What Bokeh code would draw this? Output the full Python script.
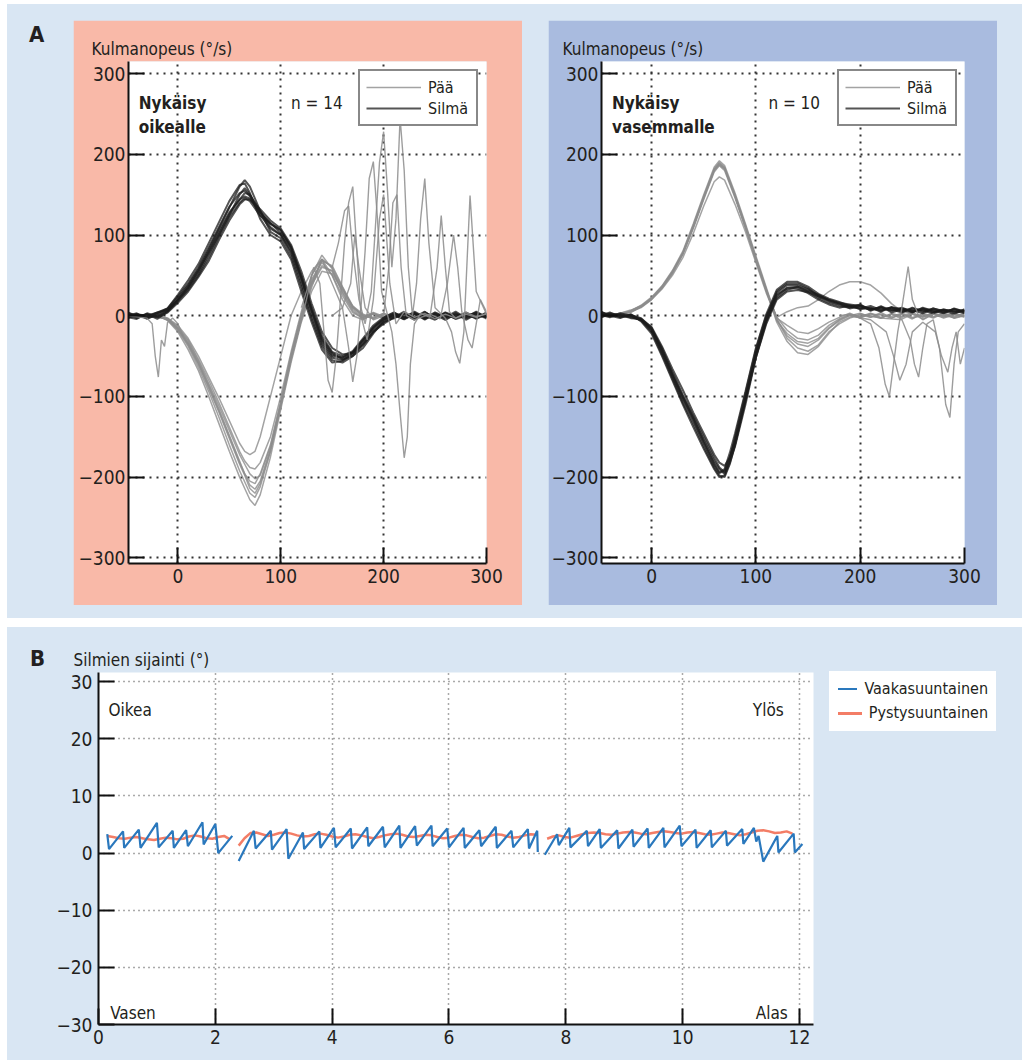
from bokeh.plotting import figure
from bokeh.layouts import row, column
from bokeh.models import (Div, Label, Legend, LegendItem, FixedTicker, Range1d,
                          Spacer, CustomJSTickFormatter)
from bokeh.embed import file_html
from bokeh.resources import INLINE

FONT = "DejaVu Sans Condensed, DejaVu Sans, sans-serif"
CSSFONT = "'DejaVu Sans Condensed','DejaVu Sans',sans-serif"
TXT = "#231f20"
BG = "#d9e6f3"
PINK = "#f9b9a8"
BLUEBOX = "#a9bbdf"
GRAY = "#8c8c8c"
DARK = "#1c1c1c"
HBLUE = "#2a78bd"
VRED = "#f37d66"

# ---------------- Panel A data (angular velocity, deg/s) ----------------
a_xticks = [0, 100, 200, 300]
a_yticks = [-300, -200, -100, 0, 100, 200, 300]

# left: impulse to the right (n = 14)
left_dark_t = [-48, -40, -30, -20, -10, 0, 10, 20, 30, 40, 50, 60, 65, 70, 80, 90, 100, 110, 120,
               130, 140, 150, 160, 170, 180, 190, 200, 210, 220, 230, 240, 250, 260, 270, 280, 290, 300]
left_dark = [
    [2, 0, -3, 0, 6, 20, 36, 55, 80, 105, 128, 144, 148, 145, 128, 114, 106, 84, 46, 6, -30, -48, -52, -45, -30, -15, -5, 0, -4, 2, -3, 4, -2, 3, -5, 2, 0],
    [-3, 2, 0, 4, 9, 24, 40, 60, 85, 110, 135, 152, 155, 148, 125, 108, 100, 78, 40, 0, -35, -52, -55, -48, -34, -18, -8, -3, 3, -2, 5, -4, 1, -3, 4, -2, 3],
    [4, -2, 2, -4, 5, 18, 32, 50, 72, 98, 122, 140, 146, 142, 124, 114, 106, 86, 50, 10, -25, -45, -50, -44, -28, -12, -2, 4, -3, 5, -2, 1, -5, 2, -1, 4, -3],
    [0, 3, -4, 2, 8, 22, 38, 58, 82, 108, 134, 160, 168, 160, 130, 104, 96, 74, 36, -4, -38, -55, -58, -50, -36, -20, -10, -2, 5, -4, 2, -3, 4, -1, 3, -4, 2],
    [-2, -4, 3, -1, 6, 20, 35, 56, 78, 102, 126, 144, 152, 150, 130, 110, 100, 80, 46, 8, -28, -46, -54, -50, -40, -22, -6, 2, -2, 3, -5, 3, -2, 5, -3, 1, -2],
    [3, 1, -1, 3, 9, 26, 44, 64, 90, 116, 142, 162, 164, 152, 120, 100, 92, 70, 30, -8, -42, -58, -56, -46, -30, -16, -4, 1, -4, 2, 0, -5, 3, -2, 2, -3, 4],
    [1, -3, 2, -2, 4, 16, 30, 48, 68, 94, 118, 138, 144, 144, 132, 118, 108, 88, 55, 15, -20, -40, -48, -46, -36, -20, -8, -1, 2, -5, 4, -2, 3, -4, 0, 3, -1],
    [-1, 2, -2, 4, 7, 19, 34, 52, 76, 100, 124, 150, 158, 150, 128, 115, 102, 84, 48, 6, -32, -50, -52, -46, -32, -14, -3, 3, -1, 4, -4, 2, -3, 1, -2, 5, -2],
]
left_gray_t = [-48, -40, -30, -20, -10, 0, 10, 20, 30, 40, 50, 60, 65, 70, 75, 80, 90, 100, 110, 120,
               130, 140, 150, 160, 170, 180, 190, 200, 210, 220, 230, 240, 250, 260, 270, 280, 290, 300]
left_gray = [
    [0, 2, -1, 0, -4, -16, -34, -58, -86, -116, -148, -180, -196, -210, -215, -205, -165, -110, -50, 0, 40, 62, 55, 30, 8, -2, 3, -4, 2, -3, 4, -2, 3, -5, 2, -1, 3, -2],
    [1, -2, 2, -1, -5, -18, -38, -64, -94, -126, -160, -192, -206, -220, -225, -212, -168, -112, -55, -5, 35, 70, 60, 35, 10, 0, -3, 2, -4, 3, -2, 5, -3, 2, -4, 3, -1, 2],
    [-2, 1, 0, 2, -3, -14, -30, -54, -80, -108, -138, -168, -180, -188, -190, -182, -150, -100, -45, 5, 50, 75, 58, 28, 6, -4, 2, -2, 3, -5, 2, -3, 4, -1, 3, -4, 2, 0],
    [2, 0, -2, 1, -6, -20, -42, -68, -100, -134, -168, -200, -214, -228, -235, -222, -175, -116, -58, -8, 30, 55, 52, 32, 12, 2, -2, 3, -2, 4, -3, 1, -4, 3, -2, 2, -3, 1],
    [0, -1, 1, -2, -4, -15, -32, -56, -84, -112, -142, -172, -184, -196, -202, -198, -162, -108, -50, 2, 45, 66, 50, 25, 4, -3, 4, -1, 2, -4, 3, -2, 1, -3, 4, -2, 1, -3],
    [-1, 2, -1, 1, -5, -17, -36, -60, -90, -120, -152, -184, -198, -214, -220, -208, -168, -112, -54, -4, 38, 60, 56, 34, 10, 1, -4, 3, -3, 2, -4, 3, -2, 4, -1, 3, -2, 2],
    [1, 0, 2, -2, -3, -12, -28, -50, -76, -102, -130, -158, -168, -172, -168, -150, -100, -50, 0, 30, 55, 70, 50, 20, 0, -5, 3, -2, 4, -2, 1, -4, 2, -3, 3, -1, 2, -4],
    [0, 1, -2, 0, -5, -16, -35, -60, -88, -118, -150, -182, -196, -205, -208, -196, -160, -106, -48, 0, 42, 68, 62, 36, 12, -1, 2, -3, 1, -2, 3, -4, 2, -2, 1, -3, 4, -1],
]
left_spikes = [
    ([-48, -30, -25, -22, -19, -16, -13, -10, -5, 0, 5],
     [0, -3, -10, -50, -76, -30, -38, -8, -3, -10, -25]),
    ([115, 125, 132, 138, 142, 146, 150, 154, 158, 162, 166, 170, 174, 178, 184, 190, 196, 200, 206, 212, 220, 230, 240, 250, 260, 270, 280, 290, 300],
     [-30, 20, 60, 40, -20, -80, -95, -50, 20, 90, 140, 160, 80, 0, -30, 20, 120, 150, 40, -10, 5, -2, 3, -4, 2, -3, 4, -1, 2]),
    ([120, 130, 140, 150, 160, 166, 170, 174, 178, 182, 186, 190, 194, 198, 204, 208, 212, 216, 220, 223, 226, 230, 236, 245, 252, 256, 260, 264, 270, 280, 290, 300],
     [10, 50, 70, 40, 10, -40, -82, -50, 10, 80, 170, 191, 120, 30, 0, -20, -60, -120, -176, -150, -60, -10, 3, -2, 60, 124, 60, 5, -3, 2, -2, 3]),
    ([130, 140, 150, 156, 162, 166, 170, 176, 182, 188, 192, 196, 200, 204, 208, 212, 216, 220, 224, 228, 232, 236, 240, 244, 250, 260, 266, 270, 274, 278, 284, 290, 300],
     [40, 70, 60, 90, 130, 136, 80, 20, -10, 30, 110, 190, 228, 150, 60, 120, 245, 180, 60, 0, 40, 120, 170, 90, 10, -3, -20, -45, -59, -20, 149, 30, 2]),
    ([150, 160, 168, 172, 176, 182, 190, 200, 205, 209, 213, 217, 222, 230, 245, 255, 262, 268, 272, 276, 282, 286, 290, 294, 300],
     [0, 10, 40, 100, 60, 10, -5, 0, 60, 140, 150, 60, 0, -5, 2, -4, 40, 100, 60, 5, -30, -40, -10, 20, 5]),
]

# right: impulse to the left (n = 10)
right_gray_t = left_dark_t
right_gray = [
    [2, 0, 3, 6, 12, 22, 36, 55, 78, 112, 148, 182, 190, 184, 150, 112, 72, 33, -5, -25, -35, -38, -30, -16, -6, 0, 3, -2, 4, -3, 2, -4, 3, -1, 2, -3, 1],
    [0, 2, 1, 5, 10, 20, 34, 52, 76, 108, 144, 178, 186, 180, 146, 108, 68, 30, -2, -18, -28, -30, -24, -12, -4, 2, -1, 3, -3, 2, -2, 4, -2, 3, -1, 2, -2],
    [-2, 1, 2, 4, 11, 21, 35, 54, 77, 110, 146, 180, 188, 182, 148, 110, 70, 32, -8, -32, -46, -48, -38, -22, -8, -2, 2, 0, -3, 3, -1, 2, -4, 2, 0, -2, 3],
    [1, -1, 2, 5, 11, 20, 33, 50, 72, 102, 136, 166, 172, 168, 138, 104, 66, 28, -3, -12, -20, -22, -16, -8, -2, 3, -2, 2, 1, -3, 3, -2, 2, -3, 3, -1, 2],
    [3, 0, 1, 6, 13, 23, 37, 56, 80, 114, 150, 184, 192, 186, 152, 114, 74, 35, -4, -28, -40, -44, -36, -20, -10, -3, 1, -2, 2, -1, 3, -3, 1, -2, 4, -3, 0],
    [0, 1, 3, 7, 12, 22, 36, 54, 78, 111, 147, 181, 189, 183, 149, 111, 71, 31, -6, -22, -32, -34, -28, -15, -5, 1, -3, 3, -2, 2, -4, 2, -1, 3, -2, 3, -1],
    [1, 2, 0, 5, 12, 21, 35, 53, 77, 110, 146, 180, 187, 182, 148, 110, 70, 32, -2, 5, 10, 12, 20, 30, 38, 42, 42, 38, 28, 15, 5, 2, -1, 3, 0, 2, -1],
]
right_dark_t = left_gray_t
right_dark = [
    [3, 2, 0, -2, -5, -18, -45, -75, -104, -130, -158, -185, -195, -192, -175, -155, -101, -47, -5, 28, 38, 38, 33, 25, 20, 16, 14, 12, 8, 10, 6, 9, 5, 8, 4, 7, 5, 6],
    [0, 4, -2, 1, -3, -15, -42, -72, -100, -126, -154, -180, -190, -196, -180, -160, -106, -50, -8, 24, 35, 36, 30, 22, 16, 12, 10, 14, 6, 12, 4, 8, 7, 3, 9, 5, 8, 4],
    [5, -1, 3, 0, -6, -20, -48, -78, -108, -134, -162, -188, -198, -200, -184, -160, -104, -46, -2, 30, 40, 40, 34, 24, 18, 14, 11, 9, 12, 7, 10, 5, 9, 6, 3, 8, 4, 7],
    [-2, 3, 1, -3, -4, -16, -40, -70, -98, -124, -150, -176, -188, -194, -178, -150, -96, -42, 0, 26, 34, 34, 28, 20, 14, 10, 13, 8, 10, 5, 11, 7, 4, 10, 6, 3, 9, 5],
    [2, 0, -3, 2, -7, -22, -50, -80, -110, -138, -165, -190, -200, -198, -182, -162, -110, -52, -6, 22, 32, 36, 31, 26, 19, 15, 9, 12, 7, 11, 8, 4, 10, 5, 9, 6, 2, 8],
    [1, -2, 2, -1, -5, -17, -44, -74, -102, -128, -156, -183, -194, -190, -170, -146, -94, -40, 2, 32, 42, 42, 36, 27, 21, 17, 12, 10, 9, 6, 10, 8, 6, 9, 5, 7, 6, 3],
    [4, 1, -1, 1, -4, -14, -38, -66, -92, -120, -146, -172, -182, -186, -176, -155, -104, -52, -10, 20, 30, 32, 29, 24, 19, 15, 12, 13, 8, 9, 7, 10, 5, 8, 7, 4, 8, 6],
]
right_spikes = [
    ([180, 190, 200, 210, 218, 224, 228, 232, 236, 240, 246, 250, 256, 260, 270, 280, 290, 300],
     [0, 2, -3, -10, -40, -85, -100, -60, -20, 10, 61, 20, 0, -5, 2, -3, 1, 0]),
    ([200, 220, 240, 248, 252, 256, 260, 264, 270, 276, 282, 286, 290, 294, 300],
     [2, -3, -5, -30, -60, -76, -40, -10, -5, -40, -110, -126, -60, -20, -10]),
    ([190, 210, 225, 232, 238, 244, 250, 260, 272, 278, 284, 288, 292, 296, 300],
     [0, -5, -20, -50, -80, -60, -20, -8, -20, -50, -70, -40, -20, -60, -40]),
]

# ---------------- Panel B data (eye position, deg) ----------------
NAN = float("nan")
b_xticks = [0, 2, 4, 6, 8, 10, 12]
b_yticks = [-30, -20, -10, 0, 10, 20, 30]
b_series = ["Vaakasuuntainen", "Pystysuuntainen"]
horiz_t = [0.15, 0.18, 0.42, 0.44, 0.69, 0.72, 1.00, 1.03, 1.27, 1.29, 1.50, 1.53, 1.78, 1.80, 2.00, 2.05, 2.29, NAN,
           2.40, 2.66, 2.69, 2.95, 2.97, 3.22, 3.25, 3.50, 3.52, 3.78, 3.80, 4.03, 4.06, 4.32, 4.34, 4.60, 4.62,
           4.87, 4.90, 5.15, 5.17, 5.42, 5.45, 5.70, 5.72, 5.97, 6.00, 6.25, 6.27, 6.52, 6.55, 6.80, 6.82,
           7.07, 7.10, 7.35, 7.37, 7.51, 7.52, NAN,
           7.64, 7.85, 7.88, 8.06, 8.08, 8.36, 8.38, 8.58, 8.60, 8.88, 8.90, 9.14, 9.16, 9.40, 9.42, 9.67, 9.69,
           9.95, 9.98, 10.22, 10.24, 10.48, 10.50, 10.74, 10.76, 11.02, 11.04, 11.22, 11.26, 11.30, 11.38,
           11.62, 11.64, 11.90, 11.92, 12.05]
horiz_v = [3.3, 0.7, 3.8, 0.9, 4.1, 0.9, 5.3, 1.0, 3.9, 0.9, 4.0, 1.2, 5.4, 1.5, 5.1, 0.0, 3.0, NAN,
           -1.4, 3.9, 0.8, 3.9, 0.6, 4.2, -1.0, 3.6, 0.7, 3.8, 0.9, 4.4, 1.0, 4.3, 0.8, 4.5, 1.2,
           4.6, 1.0, 4.8, 0.9, 4.7, 1.3, 4.8, 1.2, 4.3, 1.0, 4.4, 0.9, 4.0, 1.2, 4.6, 0.9,
           3.9, 1.0, 4.2, 0.8, 3.9, 0.2, NAN,
           -0.3, 3.3, 1.4, 4.4, 1.0, 3.9, 1.2, 4.2, 0.9, 4.0, 0.8, 4.1, 1.1, 4.3, 0.9, 4.4, 1.0,
           4.8, 1.2, 4.1, 0.9, 4.0, 1.0, 3.9, 1.3, 4.2, 1.6, 4.4, 2.0, 3.0, -1.5,
           3.0, 0.1, 3.4, 0.1, 1.6]
vert_t = [0.15, 0.25, 0.35, 0.45, 0.55, 0.65, 0.75, 0.85, 0.95, 1.05, 1.15, 1.25, 1.35, 1.45, 1.55, 1.65, 1.75,
          1.85, 1.95, 2.05, 2.15, 2.25, NAN,
          2.4, 2.5, 2.6, 2.7, 2.8, 2.9, 3.0, 3.1, 3.2, 3.3, 3.4, 3.5, 3.6, 3.7, 3.8, 3.9, 4.0, 4.1, 4.2, 4.3,
          4.4, 4.5, 4.6, 4.7, 4.8, 4.9, 5.0, 5.1, 5.2, 5.3, 5.4, 5.5, 5.6, 5.7, 5.8, 5.9, 6.0, 6.1, 6.2, 6.3,
          6.4, 6.5, 6.6, 6.7, 6.8, 6.9, 7.0, 7.1, 7.2, 7.3, 7.4, 7.5, NAN,
          7.68, 7.78, 7.88, 7.98, 8.08, 8.18, 8.28, 8.38, 8.48, 8.58, 8.68, 8.78, 8.88, 8.98, 9.08, 9.18, 9.28,
          9.38, 9.48, 9.58, 9.68, 9.78, 9.88, 9.98, 10.08, 10.18, 10.28, 10.38, 10.48, 10.58, 10.68, 10.78,
          10.88, 10.98, 11.08, 11.18, 11.28, 11.38, 11.48, 11.58, 11.68, 11.78, 11.88]
vert_v = [3.0, 2.8, 2.6, 2.5, 2.7, 2.8, 2.6, 2.4, 2.3, 2.5, 2.7, 2.6, 2.4, 2.5, 2.9, 3.1, 2.9, 2.6, 2.5, 2.8, 3.0, 2.4, NAN,
          1.3, 2.6, 3.5, 3.6, 3.3, 3.0, 3.2, 3.5, 3.6, 3.4, 3.1, 2.9, 3.0, 3.3, 3.4, 3.2, 2.9, 2.7, 2.9, 3.2,
          3.3, 3.1, 2.8, 2.6, 2.8, 3.1, 3.3, 3.4, 3.2, 2.9, 2.8, 3.0, 3.2, 3.1, 2.8, 2.6, 2.7, 3.0, 3.2, 3.1,
          2.8, 2.6, 2.7, 3.0, 3.3, 3.2, 2.9, 2.7, 2.8, 3.1, 3.3, 3.2, NAN,
          2.5, 2.9, 3.1, 2.8, 2.7, 3.0, 3.3, 3.5, 3.6, 3.5, 3.3, 3.2, 3.4, 3.6, 3.7, 3.6, 3.4, 3.3, 3.5, 3.7,
          3.8, 3.7, 3.5, 3.4, 3.6, 3.7, 3.5, 3.3, 3.2, 3.4, 3.6, 3.5, 3.3, 3.1, 3.3, 3.6, 3.9, 4.0, 3.8, 3.5,
          3.6, 3.8, 3.4]


def minus_formatter():
    return CustomJSTickFormatter(code="return tick < 0 ? '\\u2212' + Math.abs(tick) : String(tick)")


def style_axes(p, xticks, yticks, fs, standoff_x, standoff_y, gdash, gcolor, gwidth):
    p.xaxis.ticker = FixedTicker(ticks=xticks)
    p.yaxis.ticker = FixedTicker(ticks=yticks)
    for ax in (p.xaxis[0], p.yaxis[0]):
        ax.axis_line_width = 2
        ax.axis_line_color = "#111111"
        ax.major_tick_in = 16
        ax.major_tick_out = 0
        ax.major_tick_line_width = 2
        ax.major_tick_line_color = "#111111"
        ax.minor_tick_line_color = None
        ax.major_label_text_font = FONT
        ax.major_label_text_font_size = fs
        ax.major_label_text_color = TXT
        ax.formatter = minus_formatter()
    p.xaxis.major_label_standoff = standoff_x
    p.yaxis.major_label_standoff = standoff_y
    for g in (p.xgrid[0], p.ygrid[0]):
        g.grid_line_dash = gdash
        g.grid_line_color = gcolor
        g.grid_line_width = gwidth


def lbl(p, x, y, text, size, bold=False, align="left"):
    p.add_layout(Label(x=x, y=y, text=text, text_font=FONT, text_font_size=size,
                       text_font_style="bold" if bold else "normal", text_color=TXT,
                       text_align=align, text_baseline="alphabetic"))


def set_title(p, text, offset, size):
    p.title.text = text
    p.title.align = "left"
    p.title.offset = offset
    p.title.standoff = 6
    p.title.text_font = FONT
    p.title.text_font_size = size
    p.title.text_font_style = "normal"
    p.title.text_color = TXT


def panel_a(fill, mlb, fw, mrb, title1, title2, ntext, n_x, groups, spikes, legend_x, toff):
    p = figure(frame_width=fw, frame_height=502, x_range=Range1d(-48, 300), y_range=Range1d(-307, 315),
               output_backend="svg", toolbar_location=None,
               min_border_left=mlb, min_border_right=mrb, min_border_top=41, min_border_bottom=42,
               border_fill_color=fill, background_fill_color="white", outline_line_color=None)
    style_axes(p, a_xticks, a_yticks, "19px", 5, 3, "2 5", "#333333", 2)
    set_title(p, "Kulmanopeus (°/s)", toff, "17px")
    rend = {}
    for (t, traces, color, width, alpha, key) in groups:
        for tr in traces:
            n = min(len(t), len(tr))
            r = p.line(t[:n], tr[:n], line_color=color, line_width=width, line_alpha=alpha)
            rend.setdefault(key, r)
    for (t, v) in spikes:
        n = min(len(t), len(v))
        p.line(t[:n], v[:n], line_color=GRAY, line_width=1.4, line_alpha=0.85)
    leg = Legend(items=[LegendItem(label="Pää", renderers=[rend["gray"]]),
                        LegendItem(label="Silmä", renderers=[rend["dark"]])],
                 location=(legend_x, 437), orientation="vertical",
                 label_text_font=FONT, label_text_font_size="16px", label_text_color=TXT,
                 border_line_color="#111111", border_line_width=2.5,
                 background_fill_color="white", background_fill_alpha=1,
                 glyph_width=55, glyph_height=20, label_height=20, label_width=42,
                 padding=6, spacing=1, label_standoff=7, margin=0)
    p.add_layout(leg)
    lbl(p, -38, 264, title1, "17px", bold=True)
    lbl(p, -38, 234, title2, "17px", bold=True)
    lbl(p, n_x, 264, ntext, "17px")
    return p


p1 = panel_a(PINK, 55, 358, 36, "Nykäisy", "oikealle", "n = 14", 110,
             [(left_gray_t, left_gray, GRAY, 1.5, 0.8, "gray"),
              (left_dark_t, left_dark, DARK, 2.0, 0.75, "dark")],
             left_spikes, 230, -37)
p2 = panel_a(BLUEBOX, 53, 363, 33, "Nykäisy", "vasemmalle", "n = 10", 112,
             [(right_gray_t, right_gray, GRAY, 1.5, 0.8, "gray"),
              (right_dark_t, right_dark, DARK, 2.0, 0.75, "dark")],
             right_spikes, 236, -39)

LETTER = ("font-family:" + CSSFONT + ";font-size:22px;"
          "font-weight:bold;color:#231f20;line-height:26px;")
divA = Div(text="<div style=\"margin-left:22px;margin-top:2px;" + LETTER + "\">A</div>",
           width=66, height=585, margin=0)
top = row(divA, p1, Spacer(width=26, height=585, margin=0), p2, Spacer(width=25, height=585, margin=0),
          styles={"background-color": BG, "padding-top": "16px", "padding-bottom": "13px"})

# ---------------- Panel B ----------------
p3 = figure(frame_width=715, frame_height=352, x_range=Range1d(0, 12.24), y_range=Range1d(-30, 31.6),
            output_backend="svg", toolbar_location=None,
            min_border_left=48, min_border_right=16, min_border_top=45, min_border_bottom=36,
            border_fill_color=BG, background_fill_color="white", outline_line_color=None)
style_axes(p3, b_xticks, b_yticks, "19px", 5, 6, "1 4", "#555555", 1.5)
set_title(p3, "Silmien sijainti (°)", -25, "17px")
p3.line(vert_t, vert_v, line_color=VRED, line_width=2.5)
p3.line(horiz_t, horiz_v, line_color=HBLUE, line_width=2.2)
lbl(p3, 0.17, 25.1, "Oikea", "17px")
lbl(p3, 0.2, -28.0, "Vasen", "17px")
lbl(p3, 11.73, 25.1, "Ylös", "17px", align="right")
lbl(p3, 11.8, -28.0, "Alas", "17px", align="right")


# legend box of panel B, beside the plotting frame
def leg_row(color, width, text):
    return ("<div style=\"display:flex;align-items:center;height:22px;margin-bottom:2px;\">"
            "<span style=\"display:inline-block;width:24px;height:0;border-top:" + str(width) +
            "px solid " + color + ";margin-right:7px;\"></span>"
            "<span style=\"font-family:" + CSSFONT + ";font-size:16px;color:#231f20;"
            "white-space:nowrap;\">" + text + "</span></div>")


leg_html = ("<div style=\"background:white;width:167px;height:60px;box-sizing:border-box;"
            "padding:7px 8px 0 9px;\">" + leg_row(HBLUE, 2, b_series[0]) +
            leg_row(VRED, 3, b_series[1]) + "</div>")
divLeg = Div(text=leg_html, width=167, height=60, margin=(44, 0, 0, 0))

divB = Div(text="<div style=\"margin-left:23px;margin-top:19px;" + LETTER + "\">B</div>",
           width=43, height=433, margin=0)
bottom = row(divB, p3, divLeg, Spacer(width=26, height=433, margin=0),
             styles={"background-color": BG})

layout = column(top, bottom, spacing=9, margin=(4, 0, 0, 7))
open("out.html", "w").write(file_html(layout, INLINE))
